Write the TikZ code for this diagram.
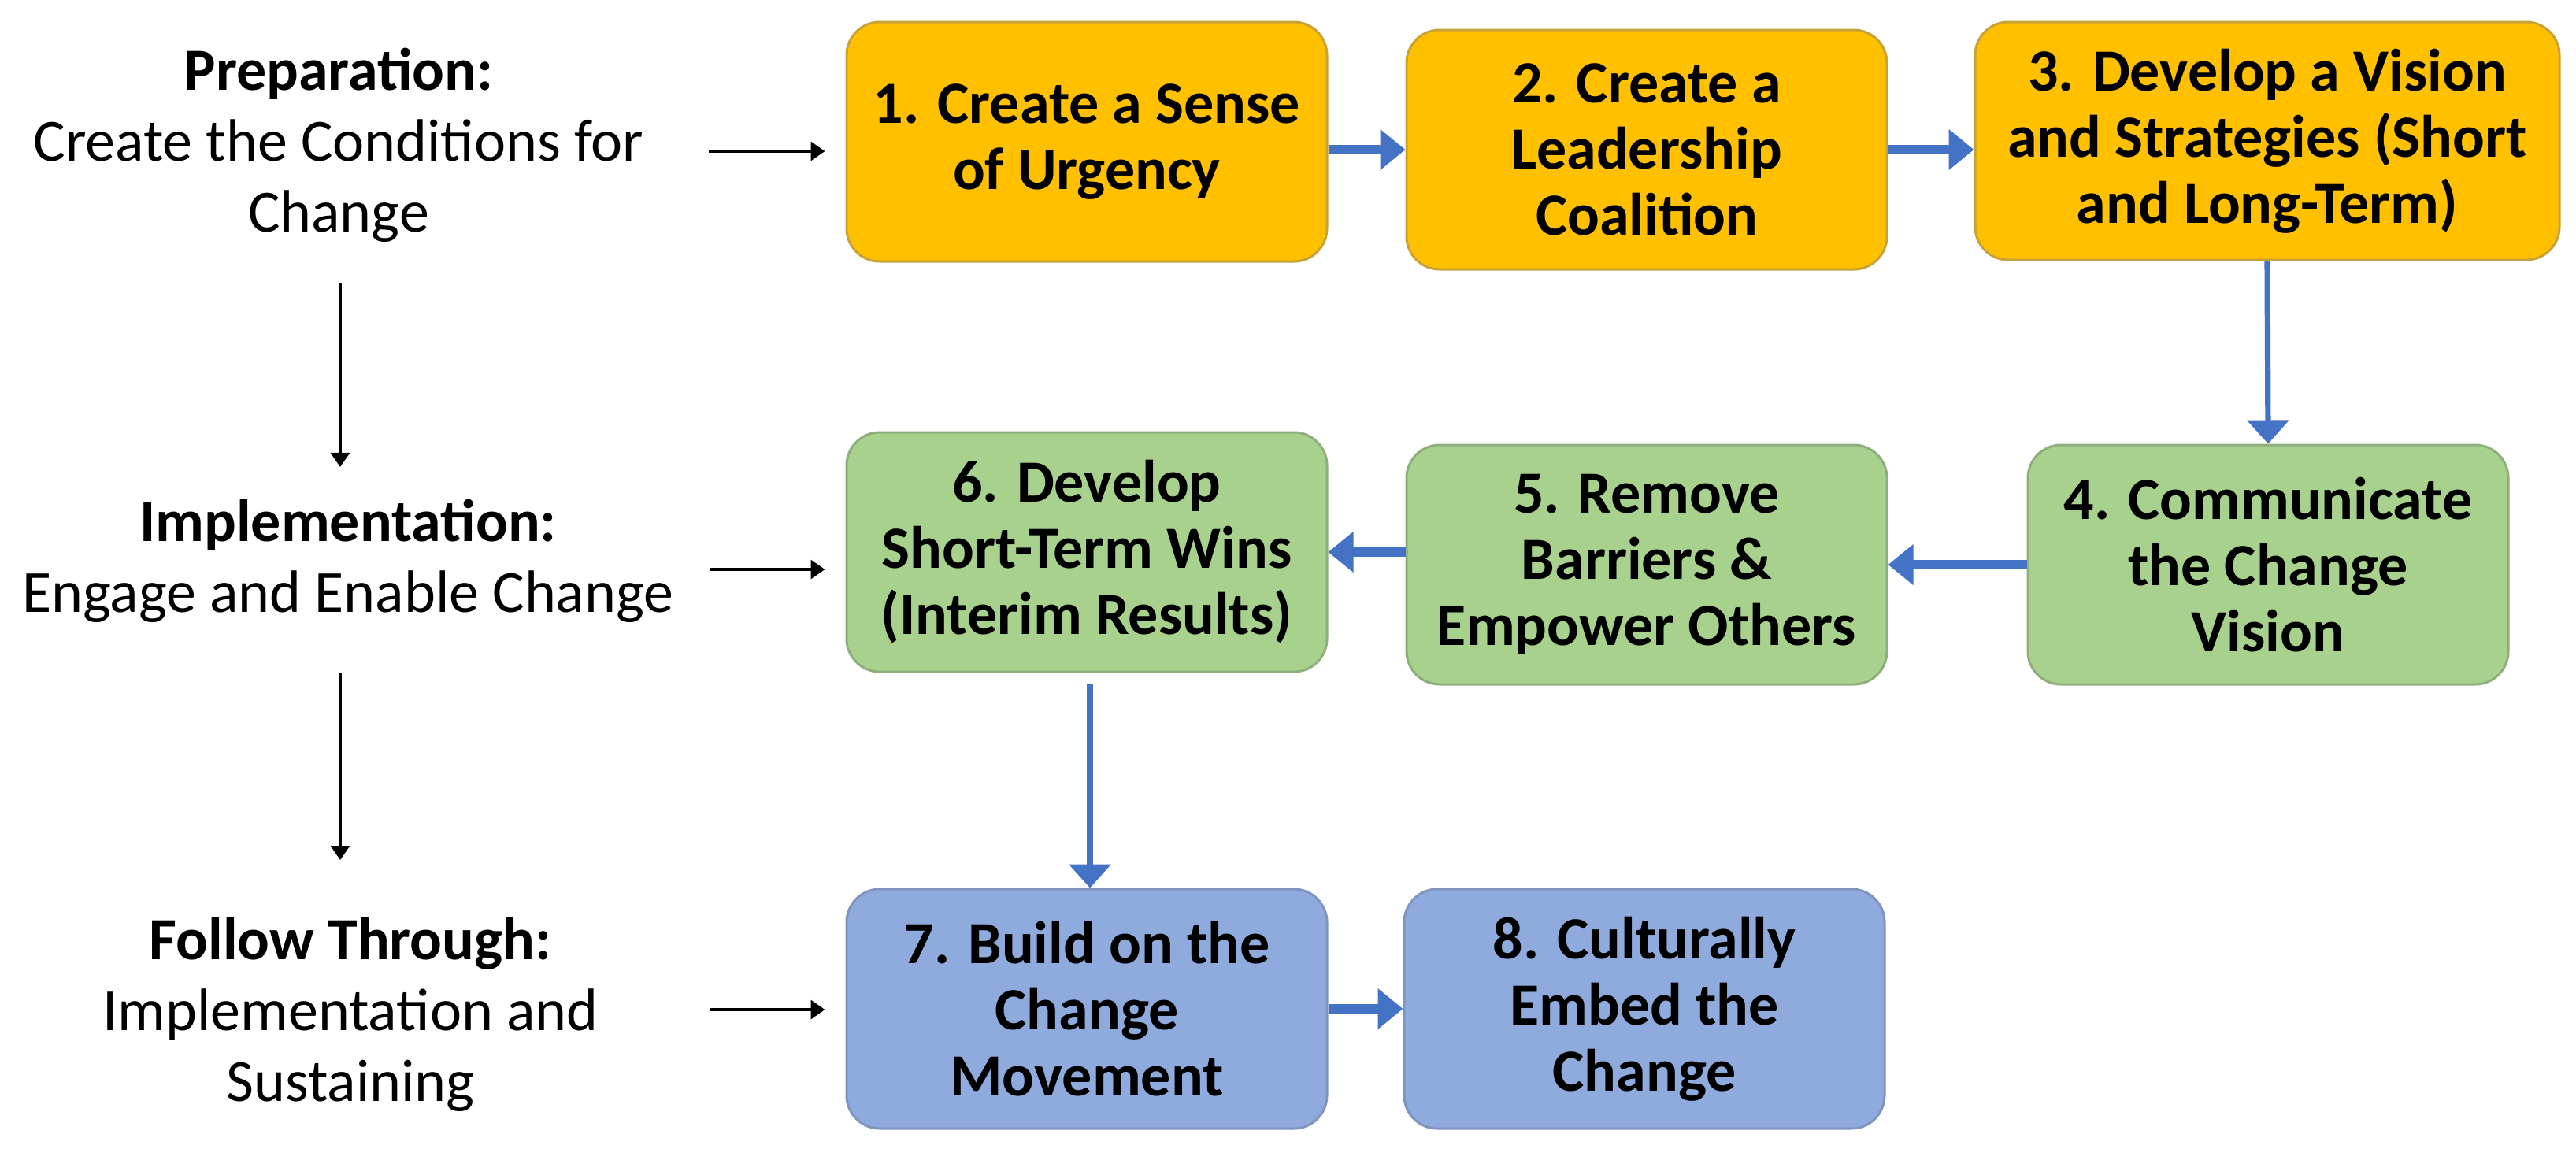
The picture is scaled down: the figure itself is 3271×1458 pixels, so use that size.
\documentclass[tikz,border=0pt]{standalone}
\usepackage{fontspec}
\setmainfont{Carlito}
\usetikzlibrary{arrows.meta}
\definecolor{ygold}{HTML}{FFC000}
\definecolor{yedge}{HTML}{C9A236}
\definecolor{gfill}{HTML}{A9D18E}
\definecolor{gedge}{HTML}{8EAE7B}
\definecolor{bfill}{HTML}{8FAADC}
\definecolor{bedge}{HTML}{8095BD}
\definecolor{arrowblue}{HTML}{4472C4}
\begin{document}
\begin{tikzpicture}[x=0.25pt,y=-0.25pt,
  stepbox/.style={rounded corners=10.5pt, line width=0.75pt, align=center, inner sep=2pt,
    minimum width=152.5pt, minimum height=76pt,
    font=\fontsize{19}{21}\selectfont\bfseries},
  ybox/.style={stepbox, fill=ygold, draw=yedge},
  gbox/.style={stepbox, fill=gfill, draw=gedge},
  bbox/.style={stepbox, fill=bfill, draw=bedge},
  phase/.style={align=center, inner sep=0pt, font=\fontsize{19}{22.5}\selectfont},
  harrow/.style={draw=arrowblue, line width=2.8pt, -{Triangle[length=8pt,width=12.5pt]}},
  varrow/.style={draw=arrowblue, line width=1.8pt, -{Triangle[length=7.5pt,width=13pt]}},
  karrow/.style={draw=black, line width=0.8pt, -{Triangle[length=4.5pt,width=6pt]}}
]
\useasboundingbox[fill=white] (0,0) rectangle (3271,1458);

% phase labels
\node[phase] (L1) at (430,184) {\textbf{Preparation:}\\Create the Conditions for\\Change};
\node[phase] (L2) at (442,712) {\textbf{Implementation:}\\Engage and Enable Change};
\node[phase] (L3) at (445,1288) {\textbf{Follow Through:}\\Implementation and\\Sustaining};

% step boxes
\node[ybox] (B1) at (1380,180) {1. Create a Sense\\of Urgency};
\node[ybox] (B2) at (2091,190) {2. Create a\\Leadership\\Coalition};
\node[ybox, minimum width=185.5pt, minimum height=75.5pt] (B3) at (2879,179) {3. Develop a Vision\\and Strategies (Short\\and Long-Term)};
\node[gbox] (B4) at (2880,717) {4. Communicate\\the Change\\Vision};
\node[gbox] (B5) at (2091,717) {5. Remove\\Barriers \&\\Empower Others};
\node[gbox] (B6) at (1380,701) {6. Develop\\Short-Term Wins\\(Interim Results)};
\node[bbox] (B7) at (1380,1281) {7. Build on the\\Change\\Movement};
\node[bbox] (B8) at (2088,1281) {8. Culturally\\Embed the\\Change};

% black arrows from phases
\coordinate (a1) at (900,192);
\coordinate (a2) at (902,723);
\coordinate (a3) at (902,1282);
\draw[karrow, shorten >=6.5pt] (a1) -- (a1 -| B1.west);
\draw[karrow, shorten >=6.5pt] (a2) -- (a2 -| B6.west);
\draw[karrow, shorten >=6.5pt] (a3) -- (a3 -| B7.west);
\draw[karrow, shorten <=12.75pt, shorten >=10pt] (L1.south -| 432,0) -- (L2.north -| 432,0);
\draw[karrow, shorten <=15.75pt, shorten >=18pt] (L2.south -| 432,0) -- (L3.north -| 432,0);

% blue arrows between steps
\draw[harrow] (B2.west -| B1.east) -- (B2.west);
\draw[harrow] (B2.east) -- (B2.east -| B3.west);
\draw[varrow] (B3.south) -- (B4.north);
\draw[harrow] (B4.west) -- (B4.west -| B5.east);
\draw[harrow] (B6.east -| B5.west) -- (B6.east);
\draw[varrow, shorten <=3.5pt] (B6.south -| 1384,0) -- (B7.north -| 1384,0);
\draw[harrow] (B7.east) -- (B7.east -| B8.west);
\end{tikzpicture}
\end{document}
